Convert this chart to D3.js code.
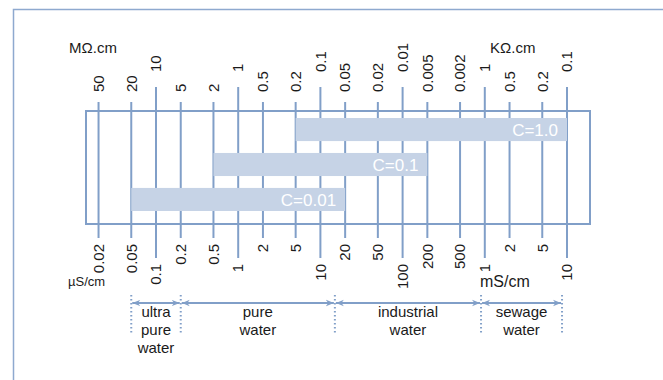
<!DOCTYPE html>
<meta charset="utf-8">
<style>
body { margin: 0; background: #fff; }
svg text { font-family: "Liberation Sans", Arial, Helvetica, sans-serif; fill: #1a1a1a; }
.tick line { stroke: #819fc8; stroke-width: 2; }
.bar text { fill: #fff; font-size: 17px; text-anchor: end; }
</style>
<body>
<svg id="chart" width="663" height="380"></svg>
<script src="https://d3js.org/d3.v7.min.js"></script>
<script>
// conductivity tick values, in µS/cm
var condValues = [0.02, 0.05, 0.1, 0.2, 0.5, 1, 2, 5, 10, 20, 50, 100, 200, 500, 1000, 2000, 5000, 10000];
// bottom labels (µS/cm, then mS/cm)
var condLabels = ["0.02", "0.05", "0.1", "0.2", "0.5", "1", "2", "5", "10", "20", "50", "100", "200", "500", "1", "2", "5", "10"];
// top labels (MΩ.cm, then KΩ.cm)
var resLabels = ["50", "20", "10", "5", "2", "1", "0.5", "0.2", "0.1", "0.05", "0.02", "0.01", "0.005", "0.002", "1", "0.5", "0.2", "0.1"];

// cell constants and their ranges, in µS/cm
var cellNames = ["C=1.0", "C=0.1", "C=0.01"];
var cellMin = [5, 0.5, 0.05];
var cellMax = [10000, 200, 20];

// water types
var zoneBounds = [0.05, 0.2, 15, 900, 8700];
var zoneNames = [["ultra", "pure", "water"], ["pure", "water"], ["industrial", "water"], ["sewage", "water"]];

var svg = d3.select("#chart");
var lineColor = "#819fc8";

var x = d3.scaleLog()
    .domain([0.01, 10000])
    .range([73.8, 567]);

var y = d3.scaleBand()
    .domain(cellNames)
    .range([118, 211])
    .paddingInner(0.34);

function isMajor(v) { return Math.abs(Math.log10(v) - Math.round(Math.log10(v))) < 1e-6; }

// outer frame (top and left only visible)
svg.append("path")
    .attr("d", "M13.5,380V9.5H663")
    .attr("fill", "none")
    .attr("stroke", "#8ea9cf")
    .attr("stroke-width", 1.5);

// tick lines
svg.append("g").attr("class", "tick")
  .selectAll("line")
  .data(condValues)
  .enter().append("line")
    .attr("x1", function(d) { return x(d); })
    .attr("x2", function(d) { return x(d); })
    .attr("y1", function(d) { return isMajor(d) ? 87 : 102; })
    .attr("y2", function(d) { return isMajor(d) ? 258 : 238; });

// inner box
svg.append("rect")
    .attr("x", 86).attr("y", 111)
    .attr("width", 504).attr("height", 113)
    .attr("fill", "none")
    .attr("stroke", lineColor)
    .attr("stroke-width", 2);

// bars
var bar = svg.append("g").selectAll("g")
  .data(cellNames)
  .enter().append("g").attr("class", "bar");

bar.append("rect")
    .attr("x", function(d, i) { return x(cellMin[i]); })
    .attr("y", function(d) { return y(d); })
    .attr("width", function(d, i) { return x(cellMax[i]) - x(cellMin[i]); })
    .attr("height", y.bandwidth())
    .attr("fill", "#c6d3e6");

bar.append("text")
    .attr("x", function(d, i) { return x(cellMax[i]) - 9; })
    .attr("y", function(d) { return y(d) + y.bandwidth() / 2; })
    .attr("dy", "0.36em")
    .text(function(d) { return d; });

// top labels (resistivity)
svg.append("g").selectAll("text")
  .data(condValues)
  .enter().append("text")
    .attr("transform", function(d) { return "translate(" + x(d) + "," + (isMajor(d) ? 72 : 92) + ") rotate(-90)"; })
    .attr("dy", "0.35em")
    .style("font-size", "15px")
    .text(function(d, i) { return resLabels[i]; });

// bottom labels (conductivity)
svg.append("g").selectAll("text")
  .data(condValues)
  .enter().append("text")
    .attr("transform", function(d) { return "translate(" + x(d) + "," + (isMajor(d) ? 264 : 244) + ") rotate(-90)"; })
    .attr("dy", "0.35em")
    .attr("text-anchor", "end")
    .style("font-size", "15px")
    .text(function(d, i) { return condLabels[i]; });

// unit labels
svg.append("text").attr("x", 69).attr("y", 53).style("font-size", "15px").text("MΩ.cm");
svg.append("text").attr("x", 490).attr("y", 53).style("font-size", "15px").text("KΩ.cm");
svg.append("text").attr("x", 68).attr("y", 286).style("font-size", "13px").text("µS/cm");
svg.append("text").attr("x", 480).attr("y", 287).style("font-size", "16px").text("mS/cm");

// water zones
var defs = svg.append("defs");
defs.append("marker")
    .attr("id", "arr")
    .attr("viewBox", "0 0 10 10")
    .attr("refX", 10).attr("refY", 5)
    .attr("markerWidth", 4).attr("markerHeight", 4)
    .attr("markerUnits", "strokeWidth")
    .attr("orient", "auto-start-reverse")
  .append("path")
    .attr("d", "M0,1L10,5L0,9L3,5Z")
    .attr("fill", lineColor);

svg.append("g").selectAll("line")
  .data(zoneBounds)
  .enter().append("line")
    .attr("x1", function(d) { return x(d); })
    .attr("x2", function(d) { return x(d); })
    .attr("y1", 295).attr("y2", 333)
    .attr("stroke", lineColor)
    .attr("stroke-width", 2)
    .attr("stroke-dasharray", "1.5,2.5");

var zone = svg.append("g").selectAll("g")
  .data(zoneNames)
  .enter().append("g");

zone.append("line")
    .attr("x1", function(d, i) { return x(zoneBounds[i]) + 1; })
    .attr("x2", function(d, i) { return x(zoneBounds[i + 1]) - 1; })
    .attr("y1", 303).attr("y2", 303)
    .attr("stroke", lineColor)
    .attr("stroke-width", 2)
    .attr("marker-start", "url(#arr)")
    .attr("marker-end", "url(#arr)");

zone.append("text")
    .attr("text-anchor", "middle")
    .style("font-size", "15px")
  .selectAll("tspan")
  .data(function(d, i) {
    var cx = (x(zoneBounds[i]) + x(zoneBounds[i + 1])) / 2;
    return d.map(function(t, j) { return {t: t, cx: cx, j: j}; });
  })
  .enter().append("tspan")
    .attr("x", function(d) { return d.cx; })
    .attr("y", function(d) { return 317 + d.j * 18; })
    .text(function(d) { return d.t; });
</script>
</body>
